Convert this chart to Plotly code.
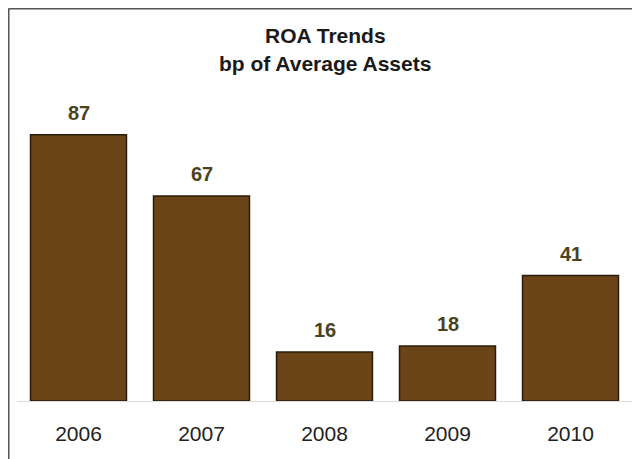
import plotly.graph_objects as go

years = ["2006", "2007", "2008", "2009", "2010"]
roa_bp = [87, 67, 16, 18, 41]
title_lines = ["ROA Trends", "bp of Average Assets"]

W, H = 632, 451
ML, MR, MT, MB = 9, 8, 87, 58
PW, PH = W - ML - MR, H - MT - MB
BASE = H - MB


def px(x):
    return (x - ML) / PW


def py(y):
    return (BASE - y) / PH


FONT = "Liberation Sans, Arial, Helvetica, sans-serif"

fig = go.Figure()
fig.add_trace(go.Bar(
    x=years, y=roa_bp,
    marker=dict(color="#6b4418", line=dict(color="#2a1c0c", width=1.5)),
    hoverinfo="skip",
))

for i, v in enumerate(roa_bp):
    fig.add_annotation(x=i, y=v, text="<b>%d</b>" % v, showarrow=False,
                       yshift=22, yanchor="middle",
                       font=dict(family=FONT, size=20, color="#4a4220"))

fig.add_annotation(xref="paper", yref="paper", x=px(317), y=py(27.5),
                   text="<b>%s</b>" % title_lines[0], showarrow=False, yanchor="middle",
                   font=dict(family=FONT, size=21, color="#1a1a1a"))
fig.add_annotation(xref="paper", yref="paper", x=px(317), y=py(56),
                   text="<b>%s</b>" % title_lines[1], showarrow=False, yanchor="middle",
                   font=dict(family=FONT, size=21, color="#1a1a1a"))

# frame lines (left and top)
fig.add_shape(type="line", xref="paper", yref="paper",
              x0=px(0.5), x1=px(0.5), y0=py(0.5), y1=py(H + 5),
              line=dict(color="#555555", width=2))
fig.add_shape(type="line", xref="paper", yref="paper",
              x0=px(0.5), x1=px(W + 5), y0=py(0.5), y1=py(0.5),
              line=dict(color="#555555", width=2))

fig.update_layout(
    width=W, height=H,
    margin=dict(l=ML, r=MR, t=MT, b=MB, autoexpand=False),
    paper_bgcolor="white", plot_bgcolor="white",
    showlegend=False,
    bargap=0.22,
    xaxis=dict(type="category", range=[-0.5, len(years) - 0.5], showgrid=False,
               showline=True, linecolor="#dcdcdc", linewidth=1,
               ticks="outside", ticklen=14, tickcolor="rgba(0,0,0,0)", automargin=False,
               tickfont=dict(family=FONT, size=21, color="#222222"),
               fixedrange=True),
    yaxis=dict(range=[0, 100], visible=False, fixedrange=True, automargin=False),
)

fig.write_html("out.html")
